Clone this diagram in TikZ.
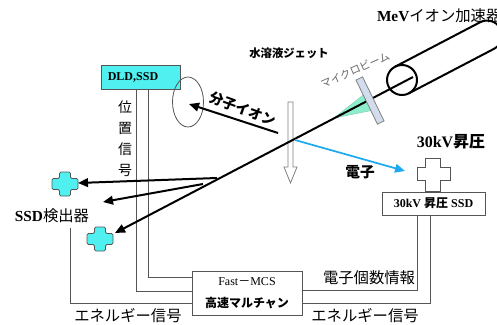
\documentclass[tikz,border=0pt]{standalone}
\usepackage{fontspec}
\setmainfont{Liberation Serif}
\newfontfamily\jp{Noto Sans CJK JP}
\usetikzlibrary{arrows.meta}
\definecolor{detcyan}{RGB}{80,240,240}
\definecolor{elecblue}{RGB}{30,170,240}
\definecolor{conegreen}{RGB}{140,238,205}
\definecolor{platecol}{RGB}{210,220,236}
\definecolor{linegray}{RGB}{85,85,85}
\begin{document}
\begin{tikzpicture}[x=0.75pt,y=-0.75pt,
  sig/.style={draw=linegray, line width=0.6pt},
  beam/.style={line width=1.5pt, black},
  headtip/.style={-{Triangle[length=7.5pt,width=6.5pt]}},
  box/.style={draw=linegray, line width=0.7pt, inner sep=0pt},
  txt/.style={inner sep=0pt, outer sep=0pt},
  pics/detcross/.style={code={
    \draw[pic actions] (-5.5,-12) -- (5.5,-12) -- (5.5,-5.5) -- (13,-5.5) -- (13,5.5)
      -- (5.5,5.5) -- (5.5,12) -- (-5.5,12) -- (-5.5,5.5) -- (-13,5.5) -- (-13,-5.5)
      -- (-5.5,-5.5) -- cycle;
  }},
]
\useasboundingbox (0,0) rectangle (497,325);

% ---------- boxes ----------
\node[box, fill=detcyan, minimum width=59.25pt, minimum height=18pt] (dld) at (140.5,77) {};
\node[txt, font=\fontsize{9}{10}\selectfont\bfseries] (dldtxt) at (133,77) {DLD,SSD};

\node[box, fill=white, minimum width=82.5pt, minimum height=33pt,
      align=center, font=\fontsize{9}{16.5}\selectfont] (mcs) at (247,293)
  {Fast{\jp －}MCS\\{\jp\bfseries 高速マルチャン}};

\node[box, fill=white, minimum width=77.25pt, minimum height=17.25pt,
      font=\fontsize{9}{10}\selectfont\bfseries] (hv) at (433.5,203.5)
  {30kV {\jp 昇圧} SSD};

% ---------- signal lines ----------
\draw[sig] ([xshift=27pt]dld.south west) |- ([yshift=18pt]mcs.south west);
\draw[sig] ([xshift=36pt]dld.south west) |- ([yshift=28.5pt]mcs.south west);
\coordinate (eL) at (70,228);
\draw[sig] (eL) |- ([yshift=9pt]mcs.south west);
\draw[sig] ([xshift=27pt]hv.south west) |- ([yshift=18.75pt]mcs.south east);
\draw[sig] ([xshift=36.75pt]hv.south west) |- ([yshift=9pt]mcs.south east);

% ---------- detectors ----------
\pic[fill=detcyan, draw=linegray, line width=0.6pt, rounded corners=1pt] (ssdA) at (65,184) {detcross};
\pic[fill=detcyan, draw=linegray, line width=0.6pt, rounded corners=1pt] (ssdB) at (100,239) {detcross};
\draw[linegray, line width=0.6pt, fill=white]
  (425,158) -- (440,158) -- (440,167) -- (450,167) -- (450,180) -- (440,180)
  -- (440,191) -- (425,191) -- (425,180) -- (417,180) -- (417,167) -- (425,167) -- cycle;

% ---------- molecular ion collector ----------
\draw[linegray, line width=0.6pt] (188,102) ellipse [x radius=15.5, y radius=25];

% ---------- liquid jet (hollow arrow) ----------
\draw[gray, line width=0.6pt, fill=white]
  (288,102) -- (293,102) -- (293,167) -- (297,167) -- (290.5,183) -- (284,167) -- (288,167) -- cycle;

% ---------- beam cone ----------
\draw[conegreen!75!gray, line width=0.4pt, fill=conegreen] (334,118) -- (367,92) -- (374,110) -- cycle;

% ---------- ion beam ----------
\coordinate (bstart) at (413,77);
\coordinate (bend) at (115,233);
\draw[beam, headtip] (bstart) -- (bend);

% ---------- microbeam aperture plate ----------
\node[draw=gray, fill=platecol, line width=0.6pt, minimum width=36.75pt, minimum height=5.5pt,
      inner sep=0pt, rotate=-64] (plate) at (370,100.5) {};

% ---------- accelerator ----------
\begin{scope}[shift={(402,80)}, rotate=27.6, line width=1.5pt]
  \draw (0,0) circle [radius=15];
  \draw (0,15) -- (96,15) arc [start angle=90, end angle=-90, radius=15] -- (0,-15);
\end{scope}

% ---------- scattered ions ----------
\coordinate (sA) at (217,178);
\coordinate (sB) at (203,184);
\coordinate (tA) at (78,183);
\coordinate (tB) at (103,202);
\draw[beam, headtip] (sA) -- (tA);
\draw[beam, headtip] (sB) -- (tB);

% ---------- molecular ions ----------
\coordinate (mA) at (278,133);
\coordinate (mB) at (189,104);
\draw[beam, headtip] (mA) -- (mB);

% ---------- electrons ----------
\coordinate (eA) at (295,140);
\coordinate (eB) at (405,171);
\draw[elecblue, line width=1.3pt, headtip] (eA) -- (eB);

% ---------- labels ----------
\node[txt, anchor=west, font=\fontsize{11.5}{12}\selectfont] (acc) at (377,16)
  {\textbf{MeV}{\jp イオン加速器}};
\node[txt, font=\fontsize{8.5}{9}\selectfont\jp\bfseries] (jet) at (289,53) {水溶液ジェット};
\node[txt, rotate=24, text=gray!80!black, font=\fontsize{8}{9}\selectfont\jp] (mb) at (355,70) {マイクロビーム};
\node[txt, rotate=-20, font=\fontsize{10.5}{11}\selectfont\jp\bfseries] (mol) at (243,109) {分子イオン};
\node[txt, font=\fontsize{11}{12}\selectfont\jp\bfseries] (el) at (360,172) {電子};
\node[txt, font=\fontsize{12}{13}\selectfont\bfseries] (hvl) at (451,142) {30kV{\jp 昇圧}};
\node[txt, align=center, font=\fontsize{10.5}{15.75}\selectfont\jp] (pos) at (125,138.5) {位\\置\\信\\号};
\node[txt, font=\fontsize{11.5}{12}\selectfont] (ssdl) at (52,216) {\textbf{SSD}{\jp 検出器}};
\node[txt, font=\fontsize{11.5}{12}\selectfont\jp] (enL) at (128,316) {エネルギー信号};
\node[txt, font=\fontsize{11.5}{12}\selectfont\jp] (enR) at (365,316) {エネルギー信号};
\node[txt, font=\fontsize{11.5}{12}\selectfont\jp] (cnt) at (369,278) {電子個数情報};
\end{tikzpicture}
\end{document}
